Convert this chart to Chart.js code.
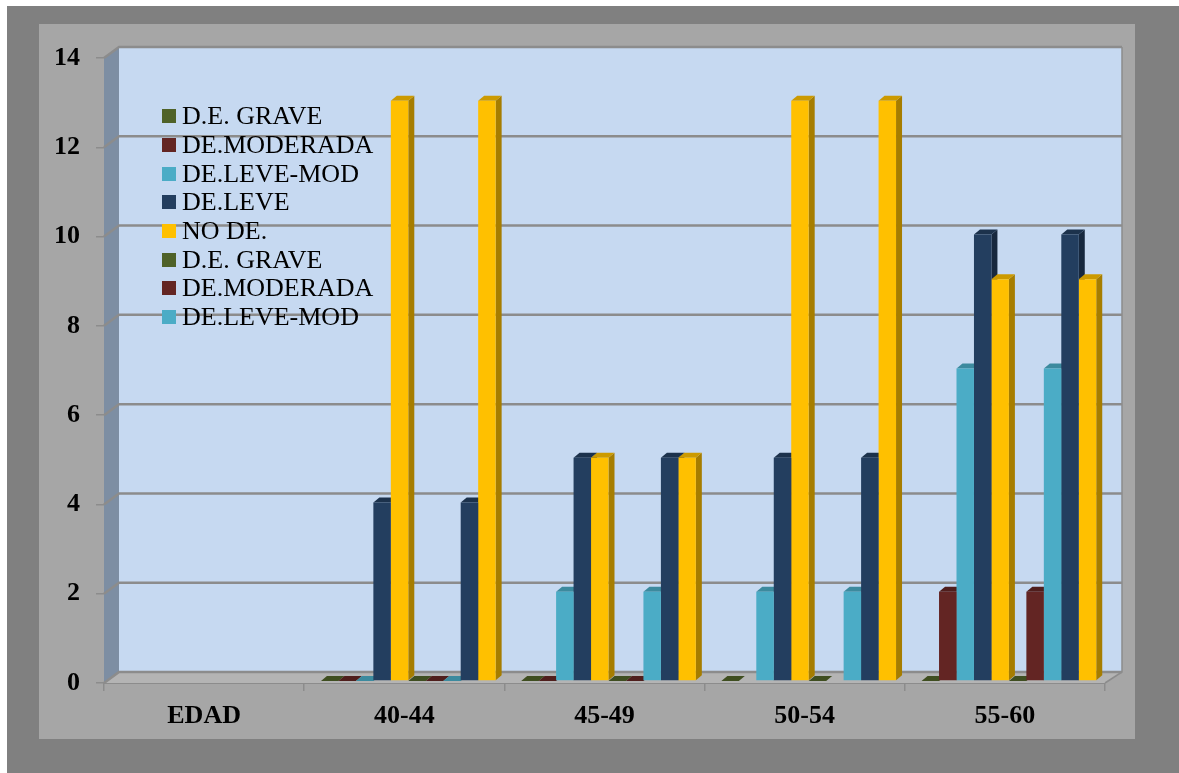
<!DOCTYPE html>
<html>
<head>
<meta charset="utf-8">
<script src="https://cdn.jsdelivr.net/npm/chart.js@4.4.1/dist/chart.umd.min.js"></script>
<style>
  html, body { margin: 0; padding: 0; background: #fff; }
  #wrap { position: relative; width: 1179px; height: 773px; overflow: hidden; }
  #outer { position: absolute; left: 7px; top: 6px; right: 0; bottom: 0; background: #808080; }
  #inner { position: absolute; left: 39px; top: 24px; width: 1096px; height: 715px; background: #a6a6a6; }
  #chart { position: absolute; left: 0; top: 0; }
  #legend { position: absolute; left: 162px; top: 102px; font-family: 'Liberation Serif', 'Times New Roman', serif; font-size: 26px; color: #000; }
  #legend .item { height: 28.7px; display: flex; align-items: center; white-space: nowrap; }
  #legend .box { width: 14px; height: 14px; margin-right: 6px; flex: none; }
</style>
</head>
<body>
<div id="wrap">
  <div id="outer"></div>
  <div id="inner"></div>
  <canvas id="chart" width="1179" height="773"></canvas>
  <div id="legend"></div>
</div>
<script>
// categorías (grupos de edad)
const categories = ['EDAD', '40-44', '45-49', '50-54', '55-60'];

// series
const seriesNames = ['D.E. GRAVE', 'DE.MODERADA', 'DE.LEVE-MOD', 'DE.LEVE', 'NO DE.'];
const grave = [null, 0, 0, 0, 0];
const moderada = [null, 0, 0, null, 2];
const leveMod = [null, 0, 2, 2, 7];
const leve = [null, 4, 5, 5, 10];
const noDe = [null, 13, 5, 13, 9];

// la hoja repite las cinco series dos veces
const grave2 = [null, 0, 0, 0, 0];
const moderada2 = [null, 0, 0, null, 2];
const leveMod2 = [null, 0, 2, 2, 7];
const leve2 = [null, 4, 5, 5, 10];
const noDe2 = [null, 13, 5, 13, 9];

const yTicks = [0, 2, 4, 6, 8, 10, 12, 14];

const colors = ['#4f6228', '#632523', '#4bacc6', '#233e5f', '#ffc000'];
const LEGEND_COUNT = 8;

function shade(hex, f) {
    const n = parseInt(hex.slice(1), 16);
    const r = Math.round(((n >> 16) & 255) * f);
    const g = Math.round(((n >> 8) & 255) * f);
    const b = Math.round((n & 255) * f);
    return `rgb(${r}, ${g}, ${b})`;
}

const allValues = [grave, moderada, leveMod, leve, noDe, grave2, moderada2, leveMod2, leve2, noDe2];
const datasets = allValues.map((vals, i) => ({
    label: seriesNames[i % 5],
    data: vals,
    backgroundColor: colors[i % 5],
    borderWidth: 0
}));

// leyenda dentro del área del gráfico
const legendEl = document.getElementById('legend');
datasets.slice(0, LEGEND_COUNT).forEach(ds => {
    const row = document.createElement('div');
    row.className = 'item';
    const box = document.createElement('span');
    box.className = 'box';
    box.style.background = ds.backgroundColor;
    const txt = document.createElement('span');
    txt.textContent = ds.label;
    row.appendChild(box);
    row.appendChild(txt);
    legendEl.appendChild(row);
});

function poly(ctx, pts, fill) {
    ctx.beginPath();
    ctx.moveTo(pts[0][0], pts[0][1]);
    for (let k = 1; k < pts.length; k++) ctx.lineTo(pts[k][0], pts[k][1]);
    ctx.closePath();
    ctx.fillStyle = fill;
    ctx.fill();
}

// paredes, suelo, rejilla y caras laterales/superiores de las columnas
const scene3d = {
    id: 'scene3d',
    beforeDatasetsDraw(chart) {
        const {ctx, chartArea: a, scales: {y}} = chart;
        const dx = 15, dy = 11;
        ctx.save();
        // pared del fondo
        ctx.fillStyle = '#c6d9f1';
        ctx.fillRect(a.left + dx, a.top - dy, a.right - a.left + 2, a.bottom - a.top);
        // pared izquierda
        poly(ctx, [[a.left, a.top], [a.left + dx, a.top - dy], [a.left + dx, a.bottom - dy], [a.left, a.bottom]], '#7d8ea3');
        // suelo
        poly(ctx, [[a.left, a.bottom], [a.left + dx, a.bottom - dy], [a.right + dx + 2, a.bottom - dy], [a.right, a.bottom]], '#b4b4b4');
        // rejilla
        ctx.strokeStyle = '#8c8c8c';
        ctx.lineWidth = 2.5;
        yTicks.forEach(v => {
            const py = y.getPixelForValue(v);
            ctx.beginPath();
            ctx.moveTo(a.left, py);
            ctx.lineTo(a.left + dx, py - dy);
            ctx.lineTo(a.right + dx + 2, py - dy);
            ctx.stroke();
        });
        ctx.lineWidth = 1.5;
        ctx.beginPath();
        ctx.moveTo(a.right + dx + 2, a.top - dy);
        ctx.lineTo(a.right + dx + 2, a.bottom - dy);
        ctx.lineTo(a.right, a.bottom);
        ctx.stroke();
        ctx.restore();

        // columnas: algo por detrás del plano frontal
        ctx.save();
        ctx.translate(4, -2);
        const bx = 6, by = 5;
        chart.data.datasets.forEach((ds, di) => {
            const meta = chart.getDatasetMeta(di);
            meta.data.forEach((bar, i) => {
                if (ds.data[i] == null) return;
                const p = bar.getProps(['x', 'y', 'base', 'width'], true);
                const l = p.x - p.width / 2, r = p.x + p.width / 2;
                const col = ds.backgroundColor;
                poly(ctx, [[r, p.y], [r + bx, p.y - by], [r + bx, p.base - by], [r, p.base]], shade(col, 0.65));
                poly(ctx, [[l, p.y], [r, p.y], [r + bx, p.y - by], [l + bx, p.y - by]], shade(col, 0.8));
            });
        });
    },
    afterDatasetsDraw(chart) {
        chart.ctx.restore();
    }
};

Chart.defaults.font.family = "'Liberation Serif', 'Times New Roman', serif";
Chart.defaults.color = '#000';

new Chart(document.getElementById('chart').getContext('2d'), {
    type: 'bar',
    data: { labels: categories, datasets: datasets },
    options: {
        responsive: false,
        animation: false,
        events: [],
        layout: { padding: { top: 58, right: 74, bottom: 0, left: 0 } },
        datasets: {
            bar: { barPercentage: 1.0, categoryPercentage: 0.8725 }
        },
        plugins: {
            legend: { display: false },
            tooltip: { enabled: false }
        },
        scales: {
            x: {
                z: 1,
                grid: { drawOnChartArea: false, color: '#8c8c8c', tickLength: 8, lineWidth: 1.5 },
                border: { display: true, color: '#8c8c8c', width: 2 },
                ticks: { font: { size: 26, weight: 'bold' }, padding: 10 },
                afterFit(scale) { scale.height = 90; }
            },
            y: {
                min: 0,
                max: 14,
                grid: { drawOnChartArea: false, color: '#8c8c8c', tickLength: 8, lineWidth: 1.5 },
                border: { display: false },
                ticks: { stepSize: 2, font: { size: 26, weight: 'bold' }, padding: 16 },
                afterFit(scale) { scale.width = 104; }
            }
        }
    },
    plugins: [scene3d]
});
</script>
</body>
</html>
